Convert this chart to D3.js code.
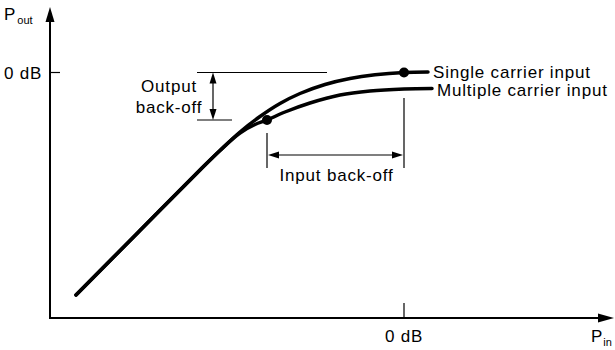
<!DOCTYPE html>
<html><head><meta charset="utf-8">
<script src="https://cdn.jsdelivr.net/npm/d3@7"></script>
<style>
html,body{margin:0;padding:0;background:#fff;}
text{font-family:"Liberation Sans",Arial,sans-serif;fill:#000;}
</style></head>
<body>
<svg id="c" width="615" height="350"></svg>
<script>
// Data (dB units)
const commonCurve = [[-32.8,-22.25],[-26.5,-15.9],[-20.4,-9.75],[-18.4,-7.8]];
const singleCurve = [[-16.4,-5.95],[-14.4,-4.4],[-12.4,-3.1],[-10.4,-2.1],[-7.9,-1.2],[-5.4,-0.6],[-2.9,-0.23],[0,0],[2.4,0.05]];
const multipleCurve = [[-16.4,-6.05],[-14.9,-5.2],[-13.7,-4.75],[-11.9,-3.95],[-9.4,-3.05],[-6.4,-2.25],[-3.4,-1.85],[0,-1.65],[2.8,-1.6]];
const seriesNames = ["Single carrier input","Multiple carrier input"];
const operatingPoints = [[0,0],[-13.7,-4.75]];
const xTickValues = [0], xTickLabels = ["0 dB"];
const yTickValues = [0], yTickLabels = ["0 dB"];

const FS = 17, LS = 0.8;
const svg = d3.select("#c");
const x = d3.scaleLinear().domain([-35.4, 0]).range([50, 404]);
const y = d3.scaleLinear().domain([-24.55, 0]).range([318, 72.5]);
const x0 = x.range()[0], yb = y.range()[0];

// axes
svg.append("line").attr("x1",x0).attr("y1",yb).attr("x2",x0).attr("y2",14).attr("stroke","#000").attr("stroke-width",2);
svg.append("path").attr("d",`M${x0},7 L${x0-4.5},22 L${x0+4.5},22 Z`).attr("fill","#000");
svg.append("line").attr("x1",x0-1).attr("y1",yb).attr("x2",605).attr("y2",yb).attr("stroke","#000").attr("stroke-width",2);
svg.append("path").attr("d",`M614,${yb} L598,${yb-4.5} L598,${yb+4.5} Z`).attr("fill","#000");

// ticks
xTickValues.forEach((v,i)=>{
  svg.append("line").attr("x1",x(v)).attr("x2",x(v)).attr("y1",yb-15).attr("y2",yb).attr("stroke","#000").attr("stroke-width",1.2);
  svg.append("text").attr("x",x(v)).attr("y",342).attr("text-anchor","middle").attr("font-size",FS).attr("letter-spacing",LS).text(xTickLabels[i]);
});
yTickValues.forEach((v,i)=>{
  svg.append("line").attr("x1",x0).attr("x2",x0+10).attr("y1",y(v)).attr("y2",y(v)).attr("stroke","#000").attr("stroke-width",1.2);
  svg.append("text").attr("x",4).attr("y",y(v)+6).attr("font-size",FS).attr("letter-spacing",LS).text(yTickLabels[i]);
});

// axis titles
const pout = svg.append("text").attr("x",4).attr("y",20).attr("font-size",FS);
pout.append("tspan").text("P");
pout.append("tspan").attr("font-size",11).attr("dx",2).attr("dy",4).text("out");
const pin = svg.append("text").attr("x",591).attr("y",342).attr("font-size",FS);
pin.append("tspan").text("P");
pin.append("tspan").attr("font-size",11).attr("dx",1).attr("dy",4).text("in");

// curves
const line = d3.line().x(d=>x(d[0])).y(d=>y(d[1])).curve(d3.curveCatmullRom.alpha(0.5));
[singleCurve, multipleCurve].forEach(c=>{
  svg.append("path").attr("d",line(commonCurve.concat(c))).attr("fill","none").attr("stroke","#000").attr("stroke-width",3.5).attr("stroke-linecap","round");
});
operatingPoints.forEach(p=>{
  svg.append("circle").attr("cx",x(p[0])).attr("cy",y(p[1])).attr("r",5).attr("fill","#000");
});

// series labels
svg.append("text").attr("x",433).attr("y",y(0)+5).attr("font-size",FS).attr("letter-spacing",LS).text(seriesNames[0]);
svg.append("text").attr("x",437).attr("y",y(-1.6)+7).attr("font-size",FS).attr("letter-spacing",LS).text(seriesNames[1]);

// output back-off annotation
const opY = y(operatingPoints[1][1]);
svg.append("line").attr("x1",197).attr("x2",327).attr("y1",y(0)).attr("y2",y(0)).attr("stroke","#000").attr("stroke-width",1.2);
svg.append("line").attr("x1",197).attr("x2",232).attr("y1",opY).attr("y2",opY).attr("stroke","#000").attr("stroke-width",1.2);
const ax = 213;
svg.append("line").attr("x1",ax).attr("x2",ax).attr("y1",y(0)+8).attr("y2",opY-8).attr("stroke","#000").attr("stroke-width",1.2);
svg.append("path").attr("d",`M${ax},${y(0)} L${ax-3.5},${y(0)+11} L${ax+3.5},${y(0)+11} Z`).attr("fill","#000");
svg.append("path").attr("d",`M${ax},${opY} L${ax-3.5},${opY-11} L${ax+3.5},${opY-11} Z`).attr("fill","#000");
svg.append("text").attr("x",169).attr("y",92).attr("text-anchor","middle").attr("font-size",FS).attr("letter-spacing",LS).text("Output");
svg.append("text").attr("x",169).attr("y",113).attr("text-anchor","middle").attr("font-size",FS).attr("letter-spacing",LS).text("back-off");

// input back-off annotation
const lx = x(operatingPoints[1][0]), rx = x(operatingPoints[0][0]);
svg.append("line").attr("x1",lx).attr("x2",lx).attr("y1",133).attr("y2",168).attr("stroke","#000").attr("stroke-width",1.2);
svg.append("line").attr("x1",rx).attr("x2",rx).attr("y1",98).attr("y2",168).attr("stroke","#000").attr("stroke-width",1.2);
const ay = 155;
svg.append("line").attr("x1",lx+8).attr("x2",rx-8).attr("y1",ay).attr("y2",ay).attr("stroke","#000").attr("stroke-width",1.2);
svg.append("path").attr("d",`M${lx+1},${ay} L${lx+12},${ay-3.5} L${lx+12},${ay+3.5} Z`).attr("fill","#000");
svg.append("path").attr("d",`M${rx-1},${ay} L${rx-12},${ay-3.5} L${rx-12},${ay+3.5} Z`).attr("fill","#000");
svg.append("text").attr("x",(lx+rx)/2+1).attr("y",181).attr("text-anchor","middle").attr("font-size",FS).attr("letter-spacing",LS).text("Input back-off");
</script>
</body></html>
